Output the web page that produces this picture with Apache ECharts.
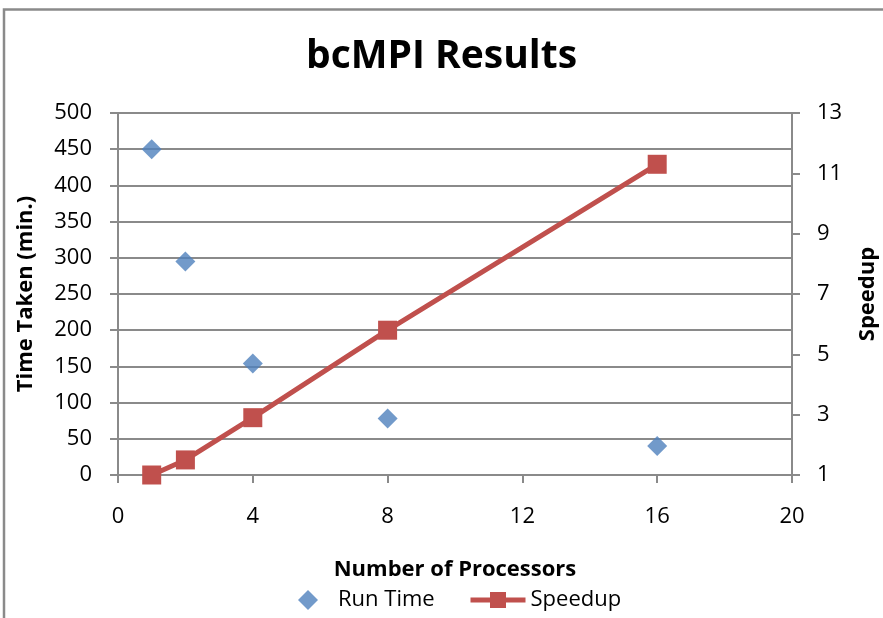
<!DOCTYPE html>
<html><head><meta charset="utf-8">
<script src="https://cdn.jsdelivr.net/npm/echarts@6/dist/echarts.min.js"></script>
<style>html,body{margin:0;padding:0;background:#fff;overflow:hidden}#c{width:883px;height:618px}</style>
</head><body><div id="c"></div>
<script>
const processors = [1, 2, 4, 8, 16];
const runTime = [450, 295, 154, 78, 40];
const speedup = [1, 1.5, 2.9, 5.8, 11.3];
const xTicks = [0, 4, 8, 12, 16, 20];
const leftTicks = [0, 50, 100, 150, 200, 250, 300, 350, 400, 450, 500];
const rightTicks = [1, 3, 5, 7, 9, 11, 13];

const FONT = '"Open Sans", Lato, sans-serif';
const GRID = '#8a8a8a';
const chart = echarts.init(document.getElementById('c'), null, {renderer: 'canvas'});
chart.setOption({
  animation: false,
  title: {
    text: 'bcMPI Results', left: 'center', top: 32,
    textStyle: {fontFamily: FONT, fontSize: 39, fontWeight: 'bold', color: '#000'}
  },
  graphic: [{
    type: 'rect', shape: {x: 4, y: 9.5, width: 1000, height: 1000},
    style: {fill: 'none', stroke: '#8a8a8a', lineWidth: 2.5}, silent: true
  }],
  grid: {left: 118, right: 91, top: 113, bottom: 143, containLabel: false, outerBoundsMode: 'none'},
  legend: [{
    left: 298, top: 589, padding: 0, itemWidth: 20, itemHeight: 20,
    textStyle: {fontFamily: FONT, fontSize: 22, color: '#000', padding: [0, 0, 0, 15]},
    data: [{name: 'Run Time'}]
  }, {
    left: 468, top: 589, padding: 0, itemWidth: 55, itemHeight: 20,
    lineStyle: {width: 5},
    textStyle: {fontFamily: FONT, fontSize: 22, color: '#000'},
    data: [{name: 'Speedup'}]
  }],
  xAxis: {
    type: 'value', min: xTicks[0], max: xTicks[xTicks.length - 1], interval: 4,
    name: 'Number of Processors', nameLocation: 'middle', nameGap: 84,
    nameTextStyle: {fontFamily: FONT, fontSize: 22, fontWeight: 'bold', color: '#000'},
    axisLine: {show: true, lineStyle: {color: GRID, width: 2}},
    axisTick: {show: true, inside: false, length: 8, lineStyle: {color: GRID, width: 2}},
    axisLabel: {fontFamily: FONT, fontSize: 22, color: '#000', margin: 31},
    splitLine: {show: false}
  },
  yAxis: [{
    type: 'value', min: leftTicks[0], max: leftTicks[leftTicks.length - 1], interval: 50,
    position: 'left',
    name: 'Time Taken (min.)', nameLocation: 'middle', nameGap: 81, nameRotate: 90,
    nameTextStyle: {fontFamily: FONT, fontSize: 22, fontWeight: 'bold', color: '#000'},
    axisLine: {show: true, lineStyle: {color: GRID, width: 2}},
    axisTick: {show: true, length: 8, lineStyle: {color: GRID, width: 2}},
    axisLabel: {fontFamily: FONT, fontSize: 22, color: '#000', margin: 26},
    splitLine: {show: true, lineStyle: {color: GRID, width: 2}}
  }, {
    type: 'value', min: rightTicks[0], max: rightTicks[rightTicks.length - 1], interval: 2,
    position: 'right',
    name: 'Speedup', nameLocation: 'middle', nameGap: 65, nameRotate: 90,
    nameTextStyle: {fontFamily: FONT, fontSize: 22, fontWeight: 'bold', color: '#000'},
    axisLine: {show: true, lineStyle: {color: GRID, width: 2}},
    axisTick: {show: true, length: 8, lineStyle: {color: GRID, width: 2}},
    axisLabel: {fontFamily: FONT, fontSize: 22, color: '#000', margin: 25},
    splitLine: {show: false}
  }],
  series: [{
    name: 'Run Time', type: 'scatter', yAxisIndex: 0,
    symbol: 'diamond', symbolSize: 20,
    itemStyle: {color: '#4F81BD'},
    data: processors.map((p, i) => [p, runTime[i]])
  }, {
    name: 'Speedup', type: 'line', yAxisIndex: 1,
    symbol: 'rect', symbolSize: 19, showAllSymbol: true,
    lineStyle: {color: '#C0504D', width: 5},
    itemStyle: {color: '#C0504D'},
    data: processors.map((p, i) => [p, speedup[i]])
  }]
});
</script></body></html>
